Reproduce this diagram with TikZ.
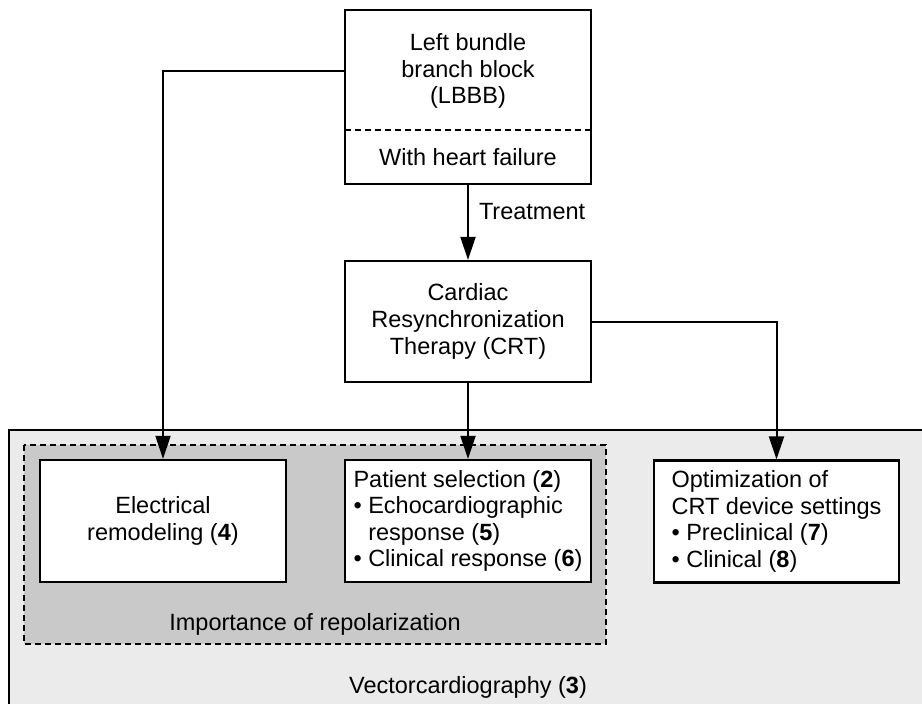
\documentclass[tikz,border=0pt]{standalone}
\usepackage{fontspec}
\setmainfont{Liberation Sans}
\usetikzlibrary{arrows.meta}
\definecolor{vcgray}{RGB}{235,235,235}
\definecolor{repgray}{RGB}{201,201,201}
\begin{document}
\begin{tikzpicture}[x=1pt, y=-1pt,
  txt/.style={font=\fontsize{23.5}{26.6}\selectfont, align=center, inner sep=0pt},
  box/.style={txt, draw=black, line width=2.2pt, fill=white, minimum width=246pt, minimum height=122pt},
  dashline/.style={line width=2pt, dash pattern=on 6pt off 4pt},
  link/.style={line width=2pt, -{Triangle[length=23pt, width=15pt]}}]
  \useasboundingbox (0,0) rectangle (922,704);
  % background regions
  \draw[line width=2pt, fill=vcgray] (9,430) rectangle (940,720);
  \draw[dashline, fill=repgray] (24,445) rectangle (606,644);
  % top box
  \node[box, minimum height=174pt] (lbbb) at (468,97) {};
  \node[txt] (lbbbtxt) at (468,71) {Left bundle\\branch block\\(LBBB)};
  \node[txt, minimum width=246pt, minimum height=54pt] (hf) at (468,157) {With heart failure};
  \draw[dashline] (hf.north west) -- (hf.north east);
  % therapy and outcome boxes
  \node[box, minimum height=121pt] (crt) at (468,321.5) {Cardiac\\Resynchronization\\Therapy (CRT)};
  \node[box] (elec) at (163,521) {Electrical\\remodeling (\textbf{4})};
  \node[box, align=left] (pat) at (468,521) {Patient selection (\textbf{2})\\• Echocardiographic\\\phantom{• }response (\textbf{5})\\• Clinical response (\textbf{6})};
  \node[box, align=left, minimum width=245pt] (opt) at (776.5,521.5) {Optimization of\\CRT device settings\\• Preclinical (\textbf{7})\\• Clinical (\textbf{8})};
  % region labels
  \node[txt] (repol) at (315,624) {Importance of repolarization};
  \node[txt] (vcg) at (468,687) {Vectorcardiography (\textbf{3})};
  % connectors
  \draw[link] (lbbb.south) -- node[txt, pos=0.36, right=10pt] (treat) {Treatment} (crt.north);
  \draw[link] (lbbbtxt.center -| lbbb.west) -| (elec.north);
  \draw[link] (crt.south) -- (pat.north);
  \draw[link] (crt.east) -| (opt.north);
\end{tikzpicture}
\end{document}
